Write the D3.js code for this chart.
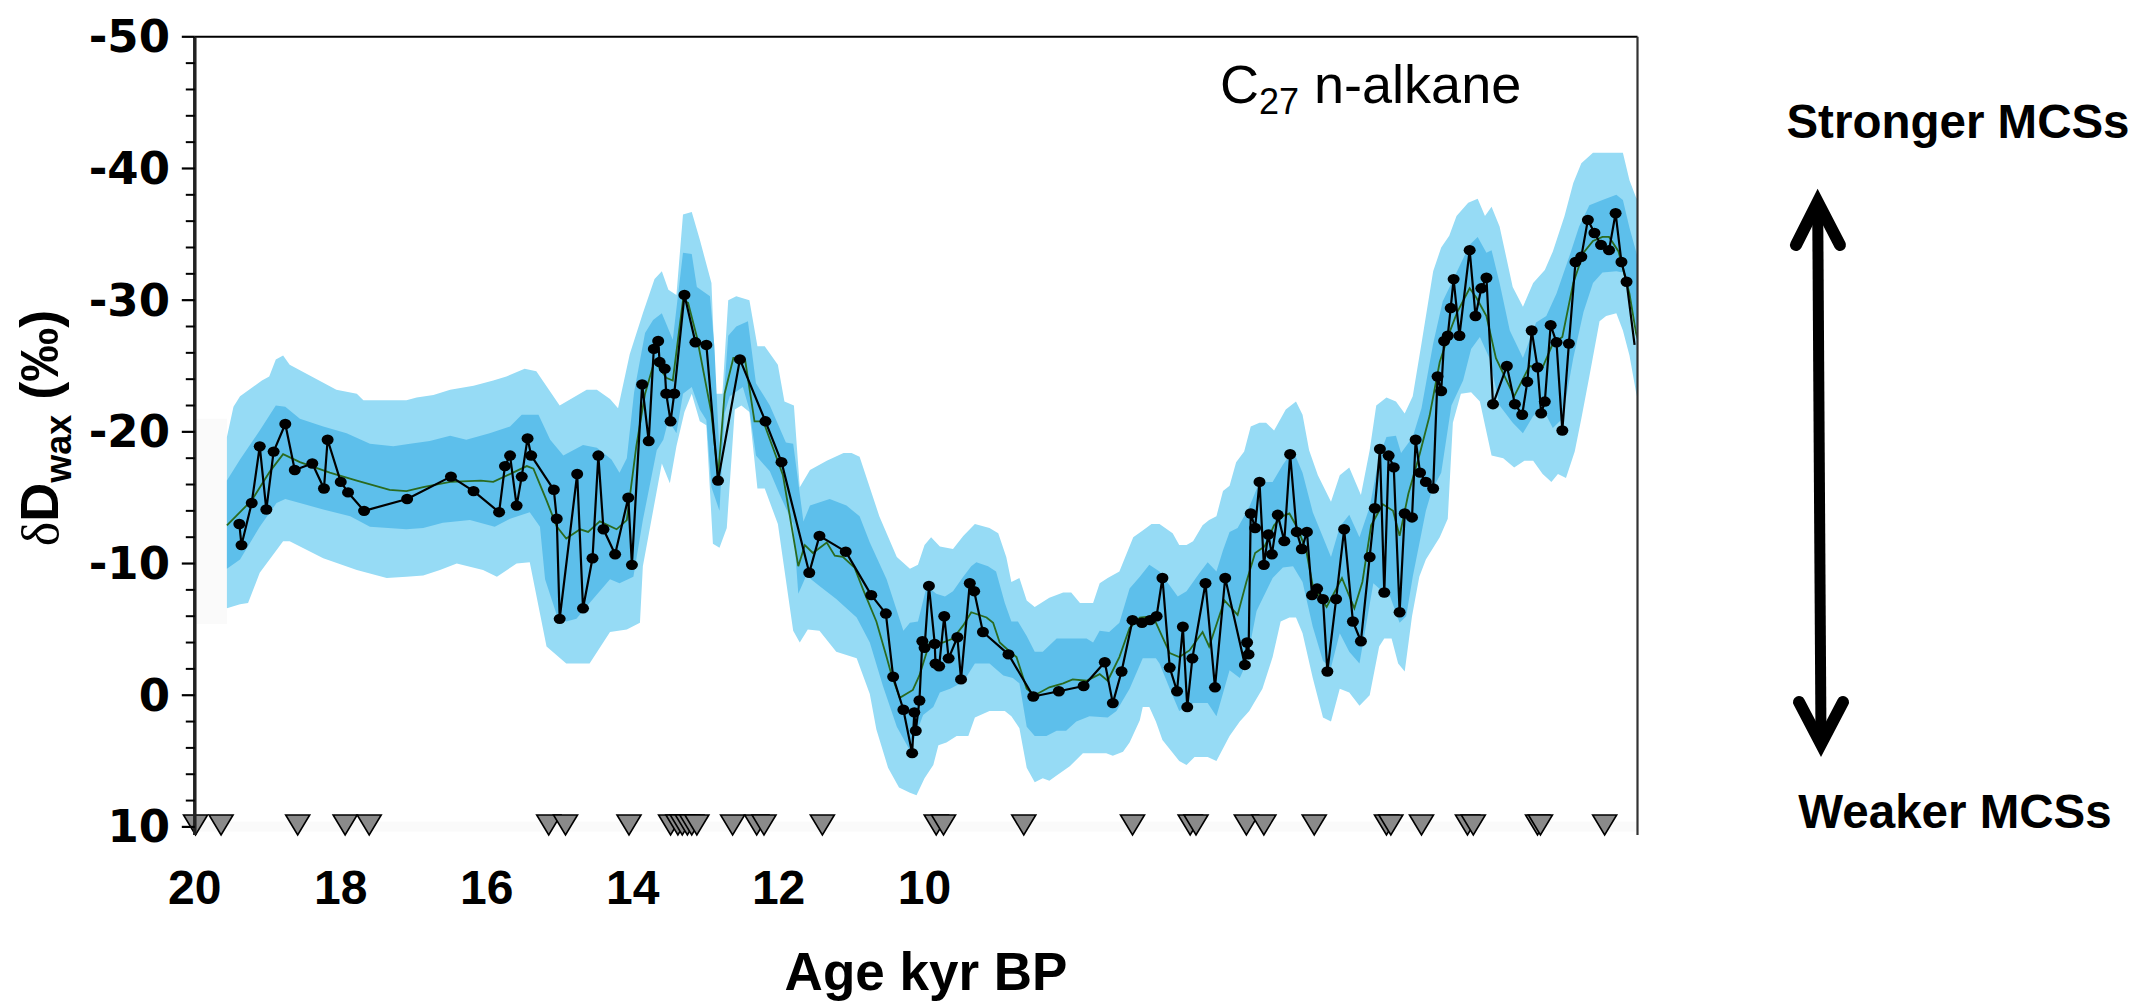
<!DOCTYPE html>
<html>
<head>
<meta charset="utf-8">
<script src="https://cdn.jsdelivr.net/npm/d3@7"></script>
<style>
  html, body { margin: 0; padding: 0; background: #ffffff; }
  svg { display: block; }
</style>
</head>
<body>
<svg id="chart" width="2136" height="1007"></svg>
<script>
// ---- Measured δD (C27 n-alkane), age in kyr BP ----
const sampleAge = [
  19.39, 19.36, 19.22, 19.11, 19.02, 18.92, 18.76, 18.63, 18.39, 18.23, 18.18, 18.00, 17.90, 17.68, 17.09, 16.49,
  16.18, 15.83, 15.75, 15.68, 15.59, 15.52, 15.44, 15.39, 15.08, 15.04, 15.00, 14.76, 14.68, 14.55, 14.47, 14.40,
  14.24, 14.06, 14.01, 13.87, 13.78, 13.71, 13.65, 13.63, 13.56, 13.54, 13.48, 13.43, 13.29, 13.14, 12.99, 12.83,
  12.53, 12.18, 11.96, 11.58, 11.44, 11.08, 10.73, 10.53, 10.43, 10.29, 10.17, 10.14, 10.12, 10.07, 10.03, 10.00,
  9.94, 9.86, 9.85, 9.80, 9.73, 9.67, 9.55, 9.50, 9.38, 9.32, 9.20, 8.85, 8.51, 8.16, 7.82, 7.53,
  7.42, 7.30, 7.15, 7.02, 6.91, 6.82, 6.74, 6.64, 6.54, 6.46, 6.40, 6.33, 6.15, 6.02, 5.88, 5.61,
  5.58, 5.56, 5.53, 5.47, 5.41, 5.35, 5.29, 5.24, 5.16, 5.07, 4.99, 4.90, 4.83, 4.76, 4.69, 4.62,
  4.54, 4.48, 4.36, 4.25, 4.13, 4.02, 3.90, 3.83, 3.76, 3.70, 3.64, 3.57, 3.49, 3.42, 3.32, 3.27,
  3.21, 3.13, 3.03, 2.97, 2.92, 2.88, 2.83, 2.79, 2.75, 2.67, 2.53, 2.45, 2.37, 2.30, 2.21, 2.02,
  1.91, 1.81, 1.74, 1.68, 1.60, 1.55, 1.50, 1.42, 1.34, 1.26, 1.17, 1.08, 1.00, 0.91, 0.82, 0.73,
  0.62, 0.53, 0.45, 0.38
];
const sampleDD = [
  -13.0, -11.4, -14.6, -18.9, -14.1, -18.5, -20.6, -17.1, -17.6, -15.7, -19.4, -16.2, -15.4, -14.0, -14.9, -16.6,
  -15.5, -13.9, -17.4, -18.2, -14.4, -16.6, -19.5, -18.2, -15.6, -13.4, -5.8, -16.8, -6.6, -10.4, -18.2, -12.6,
  -10.7, -15.0, -9.9, -23.6, -19.3, -26.3, -26.9, -25.3, -24.8, -22.9, -20.8, -22.9, -30.4, -26.8, -26.6, -16.3,
  -25.5, -20.8, -17.7, -9.3, -12.1, -10.9, -7.6, -6.2, -1.4, 1.1, 4.4, 1.3, 2.7, 0.4, -4.1, -3.6,
  -8.3, -3.9, -2.4, -2.2, -6.0, -2.8, -4.4, -1.2, -8.5, -7.9, -4.8, -3.1, 0.1, -0.3, -0.7, -2.5,
  0.6, -1.8, -5.7, -5.5, -5.7, -6.0, -8.9, -2.1, -0.3, -5.2, 0.9, -2.8, -8.5, -0.6, -8.9, -2.3,
  -4.0, -3.1, -13.8, -12.7, -16.2, -9.9, -12.2, -10.7, -13.7, -11.7, -18.3, -12.4, -11.1, -12.4, -7.6, -8.1,
  -7.3, -1.8, -7.3, -12.6, -5.6, -4.1, -10.5, -14.2, -18.7, -7.8, -18.2, -17.3, -6.3, -13.8, -13.5, -19.4,
  -16.9, -16.2, -15.7, -24.2, -23.1, -26.9, -27.3, -29.4, -31.6, -27.3, -33.8, -28.8, -30.9, -31.7, -22.1, -25.0,
  -22.1, -21.3, -23.8, -27.7, -24.9, -21.4, -22.3, -28.1, -26.8, -20.1, -26.7, -32.9, -33.3, -36.1, -35.1, -34.2,
  -33.8, -36.6, -32.9, -31.4
];
// the record continues past the last marked sample to the frame edge
const seriesTail = [[0.27, -26.6]];

// ---- Smoothed record (green) ----
const smoothAge = [
  19.56, 19.22, 18.97, 18.79, 18.56, 18.15, 17.78, 17.33, 17.10, 16.87, 16.50, 16.08, 15.91, 15.64, 15.45, 15.36,
  15.18, 15.04, 14.91, 14.72, 14.61, 14.45, 14.22, 14.08, 13.95, 13.83, 13.70, 13.54, 13.45, 13.31, 13.24, 13.12,
  12.92, 12.83, 12.74, 12.62, 12.46, 12.33, 12.21, 11.94, 11.73, 11.64, 11.53, 11.34, 11.23, 11.12, 10.96, 10.84,
  10.66, 10.52, 10.45, 10.34, 10.16, 10.07, 9.93, 9.75, 9.61, 9.47, 9.36, 9.15, 9.06, 8.97, 8.83, 8.74,
  8.60, 8.49, 8.29, 8.10, 7.97, 7.78, 7.60, 7.49, 7.33, 7.19, 7.05, 6.87, 6.78, 6.64, 6.51, 6.37,
  6.19, 6.10, 5.89, 5.71, 5.59, 5.47, 5.34, 5.21, 5.09, 5.00, 4.89, 4.77, 4.68, 4.49, 4.28, 4.11,
  4.00, 3.88, 3.72, 3.58, 3.49, 3.37, 3.22, 3.08, 2.94, 2.81, 2.70, 2.53, 2.44, 2.30, 2.17, 1.92,
  1.71, 1.53, 1.39, 1.26, 1.11, 0.97, 0.84, 0.71, 0.62, 0.49, 0.34, 0.25, 0.20
];
const smoothDD = [
  -12.9, -14.8, -17.0, -18.3, -17.7, -16.9, -16.3, -15.6, -15.5, -15.8, -16.2, -16.3, -16.2, -16.9, -17.4, -17.2,
  -14.8, -12.8, -11.9, -12.6, -12.4, -13.2, -12.6, -13.3, -18.9, -22.9, -25.4, -24.1, -23.9, -30.0, -29.8, -27.2,
  -21.4, -16.6, -22.9, -25.6, -25.5, -20.8, -20.8, -16.7, -9.8, -11.4, -10.8, -11.6, -10.6, -10.5, -9.7, -8.0,
  -5.6, -2.9, -1.5, 0.2, -0.4, -1.5, -4.0, -4.0, -4.3, -5.3, -6.3, -5.9, -5.5, -4.0, -3.3, -2.9,
  -0.5, 0.0, -0.6, -0.9, -1.2, -1.1, -1.6, -1.1, -2.9, -5.1, -5.9, -6.0, -4.9, -3.2, -2.9, -3.4,
  -4.8, -3.7, -7.2, -6.1, -8.6, -10.8, -11.3, -12.9, -13.6, -13.8, -12.7, -11.0, -8.3, -6.7, -8.9, -6.6,
  -8.6, -12.9, -14.5, -14.0, -12.1, -15.3, -18.2, -21.2, -25.3, -27.5, -29.1, -30.9, -30.2, -28.8, -25.6, -22.7,
  -25.0, -24.9, -26.7, -27.2, -31.3, -33.6, -34.5, -34.8, -34.8, -33.7, -30.5, -27.5, -26.5
];

// ---- Uncertainty envelopes: [age, δD] along each edge ----
const outerUpper = [
  [19.56,-19.6],[19.47,-21.9],[19.38,-22.7],[19.08,-23.9],[18.98,-24.2],[18.89,-25.5],[18.79,-25.8],[18.70,-25.1],
  [18.06,-23.2],[17.78,-22.9],[17.69,-22.4],[17.10,-22.4],[16.96,-22.6],[16.73,-22.8],[16.50,-23.2],[16.18,-23.5],
  [15.91,-23.9],[15.73,-24.2],[15.48,-24.8],[15.32,-24.6],[15.00,-22.0],[14.63,-23.2],[14.49,-23.2],[14.31,-22.5],
  [14.20,-21.8],[14.04,-25.9],[13.86,-29.0],[13.70,-31.6],[13.60,-32.2],[13.51,-30.8],[13.40,-30.4],[13.31,-36.5],
  [13.19,-36.7],[13.08,-34.6],[12.92,-31.3],[12.86,-22.9],[12.77,-22.9],[12.69,-30.0],[12.58,-30.3],[12.40,-30.0],
  [12.29,-26.5],[12.19,-26.5],[12.01,-25.1],[11.92,-22.3],[11.79,-22.0],[11.71,-15.8],[11.57,-17.1],[11.34,-17.8],
  [11.11,-18.4],[11.00,-18.4],[10.89,-18.1],[10.62,-13.6],[10.38,-10.5],[10.20,-9.6],[10.09,-9.9],[10.00,-11.4],
  [9.91,-12.0],[9.79,-11.3],[9.61,-11.1],[9.47,-12.1],[9.31,-13.0],[9.11,-12.7],[8.99,-12.3],[8.88,-10.5],
  [8.81,-8.6],[8.70,-8.9],[8.60,-7.2],[8.49,-6.7],[8.29,-7.4],[8.10,-7.8],[7.99,-7.8],[7.87,-7.0],
  [7.69,-7.0],[7.60,-8.5],[7.49,-8.9],[7.33,-9.4],[7.14,-12.0],[7.01,-12.5],[6.89,-13.0],[6.78,-13.0],
  [6.60,-12.3],[6.51,-11.4],[6.41,-11.4],[6.32,-11.7],[6.19,-12.9],[6.10,-13.3],[6.00,-13.6],[5.91,-15.5],
  [5.82,-15.9],[5.73,-17.7],[5.62,-18.5],[5.53,-20.4],[5.41,-20.7],[5.32,-20.7],[5.21,-20.1],[5.05,-21.7],
  [4.91,-22.3],[4.82,-21.3],[4.73,-18.6],[4.61,-16.7],[4.43,-14.7],[4.31,-16.7],[4.18,-17.3],[4.02,-15.2],
  [3.90,-18.6],[3.81,-22.0],[3.67,-22.6],[3.54,-22.3],[3.42,-21.4],[3.31,-22.7],[3.19,-26.7],[3.03,-32.2],
  [2.92,-34.0],[2.81,-34.9],[2.71,-36.4],[2.55,-37.4],[2.42,-37.7],[2.32,-36.4],[2.23,-37.1],[2.12,-35.6],
  [1.94,-31.0],[1.80,-29.5],[1.66,-31.3],[1.50,-32.3],[1.39,-33.7],[1.23,-36.4],[1.11,-38.9],[1.00,-40.4],
  [0.84,-41.2],[0.43,-41.2],[0.34,-39.1],[0.25,-37.8],[0.20,-37.4]
];
const outerLower = [
  [19.56,-6.6],[19.38,-6.9],[19.27,-7.0],[19.11,-9.3],[18.79,-11.7],[18.70,-11.7],[18.24,-10.4],[17.78,-9.5],
  [17.37,-8.9],[17.10,-9.0],[16.87,-9.1],[16.64,-9.5],[16.41,-10.0],[16.05,-9.5],[15.86,-9.0],[15.59,-10.0],
  [15.41,-10.1],[15.27,-6.2],[15.18,-3.7],[14.91,-2.4],[14.59,-2.4],[14.31,-4.8],[14.08,-5.0],[13.90,-5.5],
  [13.86,-9.8],[13.60,-17.6],[13.49,-16.1],[13.40,-18.9],[13.29,-21.5],[13.19,-22.9],[13.08,-20.8],[12.99,-20.5],
  [12.90,-11.5],[12.81,-11.2],[12.71,-12.7],[12.60,-21.7],[12.51,-22.0],[12.40,-21.5],[12.29,-15.7],[12.19,-15.7],
  [12.01,-13.0],[11.80,-4.9],[11.71,-4.0],[11.60,-5.0],[11.44,-4.9],[11.21,-3.3],[10.93,-2.8],[10.75,-0.1],
  [10.66,2.6],[10.50,5.5],[10.35,7.0],[10.20,7.4],[10.11,7.6],[10.00,6.3],[9.88,5.3],[9.81,3.8],
  [9.70,3.6],[9.56,3.1],[9.40,3.1],[9.31,1.7],[9.11,1.2],[8.90,1.2],[8.81,1.6],[8.70,2.5],
  [8.60,5.5],[8.49,6.6],[8.38,6.3],[8.29,6.5],[8.19,6.1],[8.01,5.4],[7.83,4.4],[7.51,4.4],
  [7.42,4.6],[7.28,4.3],[7.19,3.6],[7.05,1.9],[7.01,0.9],[6.92,0.9],[6.83,2.0],[6.74,3.4],
  [6.51,5.0],[6.41,5.3],[6.30,4.7],[6.12,4.7],[6.00,5.0],[5.82,3.1],[5.68,2.0],[5.55,1.2],
  [5.37,-0.5],[5.23,-2.9],[5.12,-5.6],[5.00,-5.9],[4.91,-5.9],[4.82,-4.7],[4.68,-1.3],[4.54,1.7],
  [4.43,2.0],[4.31,-0.5],[4.18,-0.2],[4.04,0.8],[3.90,0.0],[3.77,-3.7],[3.70,-4.3],[3.60,-4.3],
  [3.51,-2.4],[3.42,-1.8],[3.32,-6.0],[3.22,-9.0],[3.13,-10.3],[2.94,-12.0],[2.83,-13.4],[2.76,-20.7],
  [2.65,-22.9],[2.51,-23.0],[2.39,-22.3],[2.23,-18.2],[2.07,-18.0],[1.92,-17.3],[1.78,-17.8],[1.66,-17.8],
  [1.53,-16.8],[1.41,-16.2],[1.32,-16.8],[1.21,-16.5],[1.09,-18.5],[1.00,-21.0],[0.89,-24.2],[0.75,-28.4],
  [0.66,-28.8],[0.52,-29.0],[0.43,-27.7],[0.34,-25.8],[0.25,-23.0],[0.20,-21.8]
];
const innerUpper = [
  [19.56,-16.3],[19.38,-17.9],[19.11,-20.1],[18.89,-22.0],[18.76,-21.9],[18.56,-21.0],[18.24,-20.4],[17.92,-19.9],
  [17.60,-19.1],[17.28,-18.9],[17.05,-19.1],[16.78,-19.3],[16.50,-19.7],[16.28,-19.4],[15.96,-19.9],[15.68,-20.4],
  [15.52,-21.3],[15.29,-21.3],[15.13,-19.4],[14.95,-18.2],[14.68,-19.0],[14.49,-18.8],[14.29,-17.9],[14.18,-16.9],
  [14.08,-18.0],[13.98,-23.0],[13.83,-27.5],[13.72,-28.5],[13.60,-29.0],[13.54,-28.2],[13.45,-27.0],[13.31,-33.6],
  [13.19,-33.5],[13.12,-31.0],[12.94,-30.3],[12.88,-26.5],[12.81,-18.3],[12.69,-27.3],[12.58,-28.0],[12.42,-28.4],
  [12.31,-23.7],[12.12,-22.0],[11.90,-19.2],[11.80,-19.1],[11.66,-13.2],[11.57,-14.4],[11.30,-14.9],[11.07,-14.4],
  [10.89,-13.6],[10.75,-11.6],[10.52,-8.8],[10.29,-4.9],[10.20,-5.5],[10.09,-5.6],[9.97,-8.3],[9.84,-7.7],
  [9.72,-7.5],[9.61,-7.9],[9.47,-9.0],[9.36,-9.8],[9.29,-10.1],[9.13,-9.8],[9.02,-9.4],[8.90,-7.0],
  [8.81,-5.6],[8.72,-5.6],[8.60,-4.5],[8.49,-3.3],[8.38,-3.3],[8.19,-4.3],[7.97,-4.3],[7.78,-4.3],
  [7.69,-4.0],[7.60,-4.9],[7.47,-4.8],[7.33,-5.5],[7.19,-8.1],[7.05,-9.0],[6.92,-9.9],[6.78,-9.4],
  [6.53,-7.5],[6.41,-7.9],[6.23,-9.3],[6.12,-10.1],[6.00,-9.4],[5.91,-11.0],[5.82,-12.4],[5.71,-12.7],
  [5.55,-14.3],[5.41,-16.2],[5.23,-16.2],[5.09,-17.5],[4.95,-18.6],[4.82,-16.9],[4.68,-13.9],[4.54,-12.0],
  [4.43,-10.5],[4.31,-12.8],[4.18,-13.7],[4.04,-12.0],[3.90,-14.3],[3.77,-18.1],[3.67,-19.6],[3.54,-19.7],
  [3.47,-18.4],[3.31,-19.6],[3.19,-21.8],[3.03,-26.7],[2.90,-29.9],[2.71,-32.1],[2.53,-34.2],[2.42,-34.8],
  [2.30,-33.6],[2.23,-33.8],[2.12,-31.3],[1.98,-27.7],[1.80,-25.6],[1.62,-28.3],[1.48,-28.8],[1.34,-30.5],
  [1.16,-33.4],[1.03,-35.6],[0.89,-37.2],[0.71,-37.6],[0.52,-38.0],[0.43,-37.6],[0.34,-35.5],[0.25,-33.7],
  [0.20,-32.8]
];
const innerLower = [
  [19.56,-9.6],[19.38,-10.3],[19.11,-12.8],[18.88,-14.6],[18.76,-14.9],[18.56,-14.6],[18.24,-14.1],[17.87,-13.6],
  [17.60,-12.8],[17.10,-12.6],[16.87,-12.7],[16.60,-13.1],[16.23,-13.3],[15.89,-12.8],[15.68,-13.4],[15.41,-13.9],
  [15.27,-12.8],[15.20,-8.8],[15.04,-6.1],[14.91,-5.6],[14.77,-5.8],[14.59,-7.0],[14.31,-8.8],[14.18,-8.5],
  [13.99,-9.0],[13.86,-13.3],[13.67,-18.6],[13.58,-19.4],[13.51,-20.9],[13.40,-19.9],[13.31,-22.9],[13.19,-23.4],
  [13.08,-21.7],[12.99,-20.9],[12.92,-15.8],[12.81,-14.0],[12.74,-21.4],[12.67,-22.7],[12.49,-23.4],[12.40,-21.7],
  [12.31,-18.2],[12.12,-17.0],[11.99,-15.3],[11.80,-13.0],[11.73,-7.7],[11.62,-9.1],[11.44,-8.3],[11.21,-7.3],
  [10.93,-5.9],[10.75,-4.0],[10.57,-0.7],[10.38,2.4],[10.20,4.2],[10.02,1.5],[9.88,0.9],[9.79,-0.2],
  [9.65,-0.5],[9.47,-1.0],[9.31,-2.4],[9.11,-2.4],[8.92,-1.5],[8.79,-1.3],[8.70,-0.9],[8.60,2.4],
  [8.49,3.1],[8.33,3.1],[8.19,2.7],[8.06,2.7],[7.92,2.0],[7.74,1.6],[7.49,1.7],[7.37,1.2],
  [7.19,-0.5],[7.01,-2.8],[6.83,-2.8],[6.78,-2.4],[6.64,-0.5],[6.51,1.2],[6.32,0.6],[6.12,0.6],
  [6.00,1.6],[5.82,-1.9],[5.68,-1.3],[5.59,-2.4],[5.45,-6.4],[5.23,-8.9],[5.09,-9.7],[4.95,-9.8],
  [4.82,-8.6],[4.68,-5.2],[4.54,-2.6],[4.43,-2.1],[4.31,-4.7],[4.18,-3.3],[4.04,-2.4],[3.85,-8.5],
  [3.75,-8.0],[3.62,-7.5],[3.49,-5.5],[3.40,-6.0],[3.31,-9.0],[3.22,-11.5],[3.13,-14.0],[3.05,-15.5],
  [2.92,-16.9],[2.78,-22.0],[2.62,-23.9],[2.51,-26.3],[2.39,-27.2],[2.26,-25.6],[2.12,-22.0],[1.94,-20.7],
  [1.80,-19.9],[1.66,-21.2],[1.53,-21.8],[1.39,-20.3],[1.26,-21.0],[1.11,-25.6],[0.97,-29.1],[0.84,-31.3],
  [0.71,-32.1],[0.52,-32.2],[0.43,-32.1],[0.34,-30.2],[0.25,-27.7],[0.20,-26.8]
];

// ---- Ages of dated levels (triangles along the base) ----
const datingAges = [
  19.99, 19.64, 18.59, 17.94, 17.61, 15.15, 14.92, 14.05, 13.48, 13.38, 13.32, 13.25, 13.19, 13.12,
  12.63, 12.30, 12.20, 11.40, 9.84, 9.74, 8.64, 7.15, 6.36, 6.28, 5.59, 5.35, 4.66, 3.67, 3.61,
  3.19, 2.56, 2.48, 1.60, 1.56, 0.68
];

// ---- Axis ticks ----
const xTickValues = [20, 18, 16, 14, 12, 10];
const yTickValues = [-50, -40, -30, -20, -10, 0, 10];
const yMinorTicks = d3.range(-50, 10.001, 2);

// ---------------------------------------------------------------
const svg = d3.select("#chart");
const frame = { left: 194.8, right: 1637.5, top: 36.8, bottom: 826.9 };

const x = d3.scaleLinear().domain([20, 0.23]).range([frame.left, frame.right]);
const y = d3.scaleLinear().domain([-50, 10]).range([frame.top, frame.bottom]);

svg.append("rect").attr("width", 2136).attr("height", 1007).attr("fill", "#ffffff");

svg.append("defs").append("clipPath").attr("id", "plotClip")
  .append("rect")
  .attr("x", frame.left).attr("y", frame.top)
  .attr("width", frame.right - frame.left).attr("height", frame.bottom - frame.top + 10);

const plot = svg.append("g").attr("clip-path", "url(#plotClip)");

// faint backdrop panels
plot.append("rect")
  .attr("x", x(20)).attr("y", y(-21.0))
  .attr("width", x(19.56) - x(20)).attr("height", y(-5.4) - y(-21.0))
  .attr("fill", "#fafafa");
plot.append("rect")
  .attr("x", x(20)).attr("y", y(9.6))
  .attr("width", x(0.23) - x(20)).attr("height", 10)
  .attr("fill", "#fafafa");

const edge = d3.line().x(d => x(d[0])).y(d => y(d[1]));
const bandPath = (upper, lower) => edge(upper.concat(lower.slice().reverse())) + "Z";

plot.append("path").attr("d", bandPath(outerUpper, outerLower)).attr("fill", "#96dbf5");
plot.append("path").attr("d", bandPath(innerUpper, innerLower)).attr("fill", "#5dbfeb");

// smoothed record
const smoothPts = smoothAge.map((a, i) => [a, smoothDD[i]]);
plot.append("path")
  .attr("d", edge(smoothPts))
  .attr("fill", "none").attr("stroke", "#2a6a1e").attr("stroke-width", 1.8);

// measured samples
const samplePts = sampleAge.map((a, i) => [a, sampleDD[i]]);
plot.append("path")
  .attr("d", edge(samplePts.concat(seriesTail)))
  .attr("fill", "none").attr("stroke", "#000").attr("stroke-width", 2.2)
  .attr("stroke-linejoin", "round");

plot.append("g").selectAll("ellipse").data(samplePts).join("ellipse")
  .attr("cx", d => x(d[0])).attr("cy", d => y(d[1]))
  .attr("rx", 6).attr("ry", 5.2).attr("fill", "#000");

// dated levels
svg.append("g").selectAll("path").data(datingAges).join("path")
  .attr("transform", d => `translate(${x(d)},835)`)
  .attr("d", "M-12,-20 L12,-20 L0,0 Z")
  .attr("fill", "#8a8a8a").attr("stroke", "#000").attr("stroke-width", 1.6)
  .attr("stroke-linejoin", "miter");

// frame
svg.append("line")
  .attr("x1", frame.left).attr("x2", frame.right).attr("y1", frame.top).attr("y2", frame.top)
  .attr("stroke", "#000").attr("stroke-width", 2);
svg.append("line")
  .attr("x1", frame.right).attr("x2", frame.right).attr("y1", frame.top).attr("y2", 835)
  .attr("stroke", "#333").attr("stroke-width", 2.2);

// y axis
const yAxis = svg.append("g");
yAxis.append("line")
  .attr("x1", frame.left).attr("x2", frame.left).attr("y1", frame.top).attr("y2", 835)
  .attr("stroke", "#222").attr("stroke-width", 3.5);
yAxis.selectAll("line.minor").data(yMinorTicks.filter(v => v % 10 !== 0)).join("line")
  .attr("class", "minor")
  .attr("x1", frame.left - 9).attr("x2", frame.left).attr("y1", d => y(d)).attr("y2", d => y(d))
  .attr("stroke", "#000").attr("stroke-width", 2);
yAxis.selectAll("line.major").data(yTickValues).join("line")
  .attr("class", "major")
  .attr("x1", frame.left - 13).attr("x2", frame.left).attr("y1", d => y(d)).attr("y2", d => y(d))
  .attr("stroke", "#000").attr("stroke-width", 2.2);
yAxis.selectAll("text").data(yTickValues).join("text")
  .attr("x", 170).attr("y", d => y(d))
  .attr("text-anchor", "end").attr("dominant-baseline", "central")
  .attr("font-family", "DejaVu Sans, Verdana, sans-serif").attr("font-weight", "bold")
  .attr("font-size", 45)
  .text(d => d);

// x axis labels
svg.append("g").selectAll("text").data(xTickValues).join("text")
  .attr("x", d => x(d)).attr("y", 904)
  .attr("text-anchor", "middle")
  .attr("font-family", "Liberation Sans, Arial, sans-serif").attr("font-weight", "bold")
  .attr("font-size", 48)
  .text(d => d);

// axis titles
svg.append("text")
  .attr("x", 926).attr("y", 990)
  .attr("text-anchor", "middle")
  .attr("font-family", "Liberation Sans, Arial, sans-serif").attr("font-weight", "bold")
  .attr("font-size", 53)
  .text("Age kyr BP");

const yTitle = svg.append("text")
  .attr("transform", "translate(58,428) rotate(-90)")
  .attr("text-anchor", "middle")
  .attr("font-family", "Liberation Sans, Arial, sans-serif").attr("font-weight", "bold")
  .attr("font-size", 54);
yTitle.append("tspan").attr("font-family", "Liberation Serif, serif").attr("font-weight", "normal")
  .attr("font-size", 52).text("δ");
yTitle.append("tspan").text("D");
yTitle.append("tspan").attr("font-size", 36).attr("dy", 13).text("wax");
yTitle.append("tspan").attr("dy", -13).text(" (‰)");

// series label
const seriesLabel = svg.append("text")
  .attr("x", 1220).attr("y", 103)
  .attr("font-family", "Liberation Sans, Arial, sans-serif")
  .attr("font-size", 54);
seriesLabel.append("tspan").text("C");
seriesLabel.append("tspan").attr("font-size", 36).attr("dy", 11).text("27");
seriesLabel.append("tspan").attr("dy", -11).text(" n-alkane");

// direction annotation
svg.append("text")
  .attr("x", 1958).attr("y", 138)
  .attr("text-anchor", "middle")
  .attr("font-family", "Liberation Sans, Arial, sans-serif").attr("font-weight", "bold")
  .attr("font-size", 47.5)
  .text("Stronger MCSs");
svg.append("text")
  .attr("x", 1955).attr("y", 828)
  .attr("text-anchor", "middle")
  .attr("font-family", "Liberation Sans, Arial, sans-serif").attr("font-weight", "bold")
  .attr("font-size", 47.5)
  .text("Weaker MCSs");

const arrow = svg.append("g")
  .attr("fill", "none").attr("stroke", "#000")
  .attr("stroke-linecap", "round").attr("stroke-linejoin", "miter");
arrow.append("line")
  .attr("x1", 1817.7).attr("y1", 206).attr("x2", 1821).attr("y2", 740)
  .attr("stroke-width", 11).attr("stroke-linecap", "butt");
arrow.append("path")
  .attr("d", "M1796,245 L1817.7,202 L1840,245")
  .attr("stroke-width", 12);
arrow.append("path")
  .attr("d", "M1799,702 L1821,744 L1843,702")
  .attr("stroke-width", 12);
</script>
</body>
</html>
